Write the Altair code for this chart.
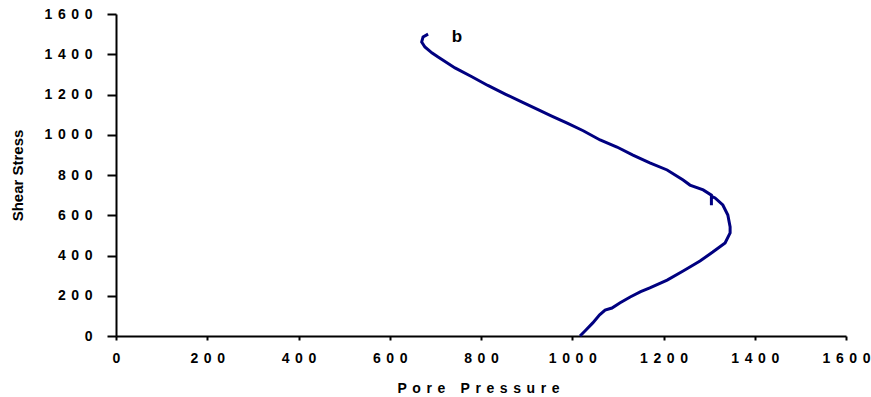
import altair as alt
import pandas as pd

pore_pressure = [1017, 1030, 1045, 1060, 1072, 1087, 1105, 1127, 1150, 1170,
                 1208, 1243, 1280, 1308, 1335, 1346, 1346, 1341, 1330, 1313,
                 1305, 1305, 1305, 1287, 1258, 1243, 1208, 1170, 1133, 1098,
                 1061, 1024, 989, 955, 925, 889, 853, 815, 780, 743,
                 706, 693, 677, 670, 673, 684]
shear_stress = [0, 30, 65, 105, 129, 139, 165, 194, 220, 239,
                278, 323, 373, 417, 462, 512, 542, 601, 651, 686,
                695, 650, 700, 726, 750, 775, 825, 860, 899, 939,
                974, 1020, 1058, 1093, 1125, 1163, 1202, 1245, 1288, 1332,
                1386, 1406, 1436, 1461, 1486, 1500]
tick_values = [0, 200, 400, 600, 800, 1000, 1200, 1400, 1600]
label_text = ["b"]
label_x = [747]
label_y = [1486]

df = pd.DataFrame({"pp": pore_pressure, "ss": shear_stress,
                   "order": list(range(len(pore_pressure)))})
lab = pd.DataFrame({"t": label_text, "x": label_x, "y": label_y})

SP = "\u2009\u2009"
spaced = f"join(split(datum.label, ''), '{SP}')"
FONT = "Liberation Sans"

x_scale = alt.Scale(domain=[0, 1600], nice=False, zero=False)
y_scale = alt.Scale(domain=[0, 1600], nice=False, zero=False)

line = alt.Chart(df).mark_line(color="#000080", strokeWidth=3).encode(
    x=alt.X("pp:Q", scale=x_scale,
            axis=alt.Axis(values=tick_values, grid=False, tickSize=4, format="d",
                          labelExpr=spaced, labelPadding=11,
                          labelFont=FONT, labelFontSize=14, labelFontWeight="bold",
                          labelColor="black", labelFlush=False,
                          title=SP.join(list("Pore Pressure")),
                          titleFont=FONT, titleFontSize=14, titleFontWeight="bold",
                          titleColor="black", titleX=362, titleY=56,
                          titleAlign="center", titleBaseline="alphabetic",
                          domainColor="black", domainWidth=2,
                          tickColor="black", tickWidth=2)),
    y=alt.Y("ss:Q", scale=y_scale,
            axis=alt.Axis(values=tick_values, grid=False, tickSize=9, format="d",
                          labelExpr=spaced, labelPadding=15,
                          labelFont=FONT, labelFontSize=14, labelFontWeight="bold",
                          labelColor="black", labelFlush=False,
                          title="Shear Stress",
                          titleFont=FONT, titleFontSize=15, titleFontWeight="bold",
                          titleColor="black", titleX=-99, titleY=161,
                          titleAngle=-90, titleAlign="center", titleBaseline="middle",
                          domainColor="black", domainWidth=2,
                          tickColor="black", tickWidth=2)),
    order="order:Q",
)

text = alt.Chart(lab).mark_text(font=FONT, fontSize=17, fontWeight="bold",
                                color="black").encode(
    x=alt.X("x:Q", scale=x_scale),
    y=alt.Y("y:Q", scale=y_scale),
    text="t:N",
)

chart = (line + text).properties(
    width=730, height=322,
    autosize=alt.AutoSizeParams(type="none"),
    padding={"left": 116, "top": 14, "right": 25, "bottom": 61},
    background="white",
).configure_view(stroke=None)

chart.save("out.html", embed_options={"renderer": "svg", "actions": False})
